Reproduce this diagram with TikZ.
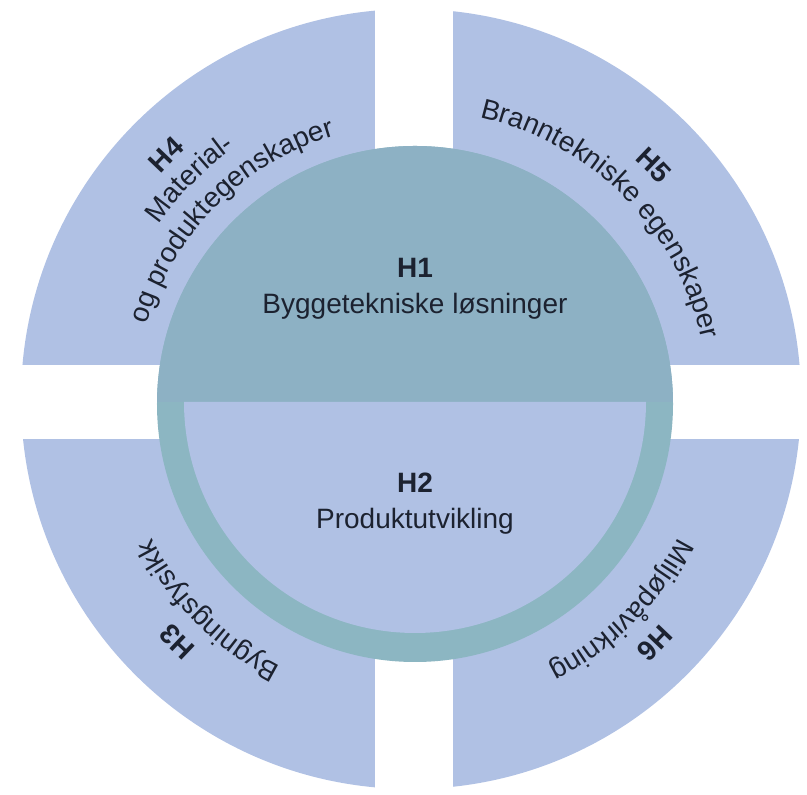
\documentclass[tikz,border=0pt]{standalone}
\usepackage{fontspec}
\setmainfont{Liberation Sans}
\usetikzlibrary{decorations.text}
\definecolor{quadblue}{HTML}{B0C1E4}
\definecolor{coreteal}{HTML}{8DB1C4}
\definecolor{ringteal}{HTML}{8CB6C2}
\definecolor{inktext}{HTML}{1C2230}
\tikzset{
  arctext/.style={decorate, decoration={text along path, text align=center,
    text color=inktext, text={|\fontsize{14}{16}\selectfont|#1}}},
  arclabel/.style={decorate, decoration={text along path, text align=center,
    text color=inktext, text={|\fontsize{14}{16}\selectfont\bfseries|#1}}},
  centretext/.style={text=inktext, font=\fontsize{14}{16}\selectfont, inner sep=0pt},
}
\begin{document}
\begin{tikzpicture}[x=0.5pt,y=0.5pt]
	\useasboundingbox (-415,-391) rectangle (392,404);
	
	% outer ring of quadrants
	\fill[quadblue](-4,5) circle [radius=390];
	\fill[white](-40,-400) rectangle (38,410);
	\fill[white](-420,-35) rectangle (400,39);
	
	% core circle
	\fill[ringteal](0,0) circle [radius=258];
	\begin{scope}
	\clip (-260,2) rectangle (260,260);
	\fill[coreteal](0,0) circle [radius=258];
	\end{scope}
	\fill[quadblue](-231,2) arc [start angle=180, end angle=360, radius=231] -- cycle;
	
	\node[centretext,font=\fontsize{14}{16}\selectfont\bfseries] (h1) at (0,136){H1};
	\node[centretext] (h1text) at (0,98){Byggetekniske løsninger};
	\node[centretext,font=\fontsize{14}{16}\selectfont\bfseries] (h2) at (0,-79){H2};
	\node[centretext] (h2text) at (0,-117){Produktutvikling};
	
	% H4, top left
	\path[arclabel={H4}](165:343) arc [start angle=165, end angle=105, radius=343];
	\path[arctext={Material-}](170:313) arc [start angle=170, end angle=100, radius=313];
	\path[arctext={og produktegenskaper}](205:280) arc [start angle=205, end angle=65, radius=280];
	
	% H5, top right
	\path[arclabel={H5}](75:328) arc [start angle=75, end angle=15, radius=328];
	\path[arctext={Branntekniske egenskaper}](115:294) arc [start angle=115, end angle=-25, radius=294];
	
	% H3, bottom left
	\path[arclabel={H3}](255:327) arc [start angle=255, end angle=195, radius=327];
	\path[arctext={Bygningsfysikk}](285:295) arc [start angle=285, end angle=165, radius=295];
	
	% H6, bottom right
	\path[arclabel={H6}](-15:329) arc [start angle=-15, end angle=-75, radius=329];
	\path[arctext={Miljøpåvirkning}](15:295) arc [start angle=15, end angle=-105, radius=295];
	
\end{tikzpicture}
\end{document}
